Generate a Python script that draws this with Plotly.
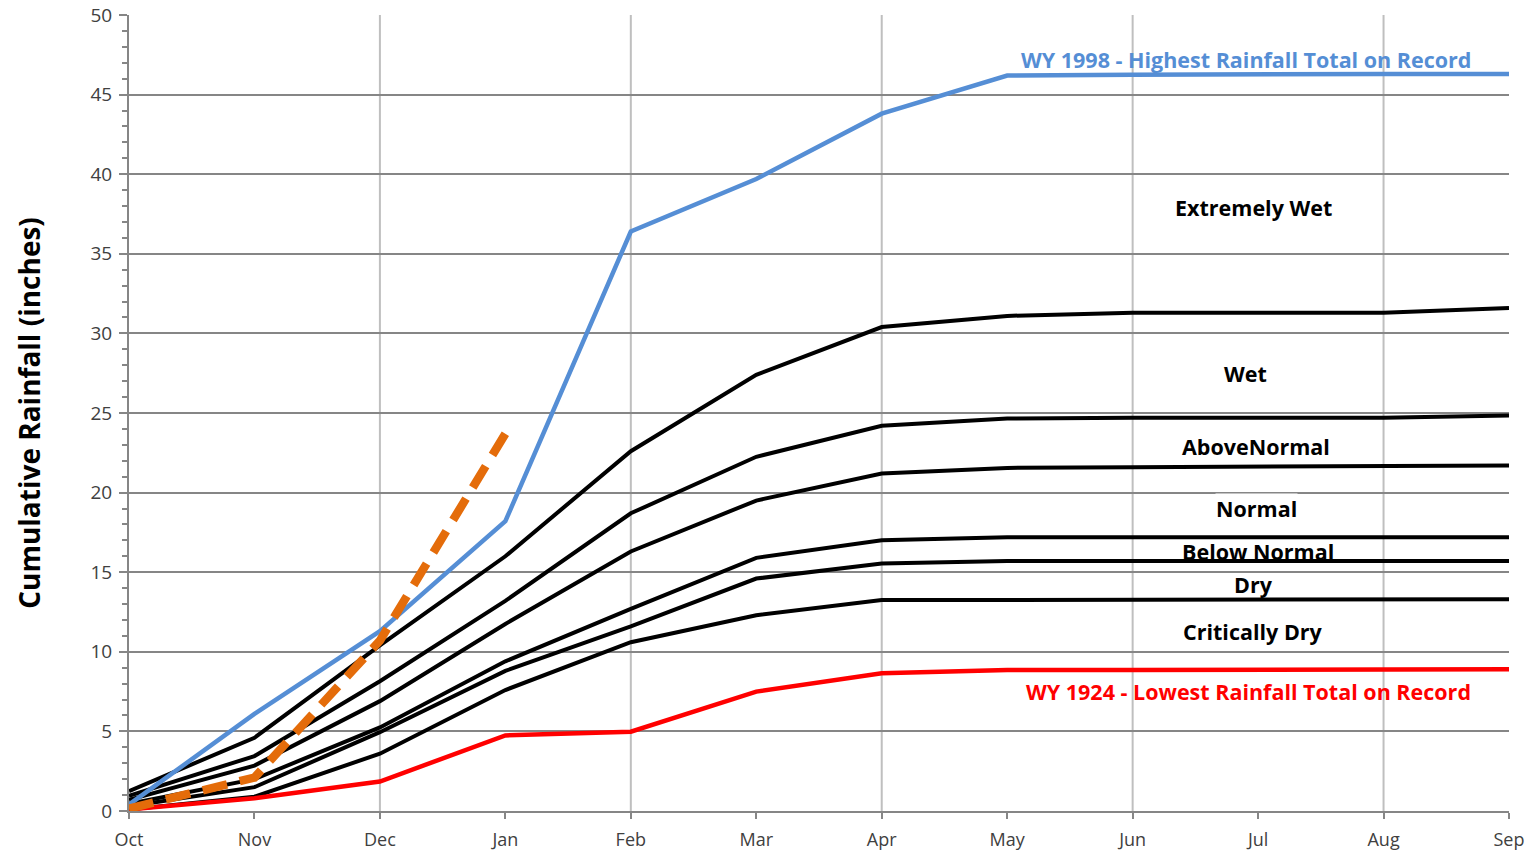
import plotly.graph_objects as go

months = ["Oct", "Nov", "Dec", "Jan", "Feb", "Mar", "Apr", "May", "Jun", "Jul", "Aug", "Sep"]

wy1998 = [0.4, 6.1, 11.3, 18.2, 36.4, 39.7, 43.8, 46.2, 46.25, 46.3, 46.3, 46.3]
wy1924 = [0.1, 0.8, 1.85, 4.75, 4.98, 7.5, 8.65, 8.85, 8.85, 8.85, 8.85, 8.9]
current = [0.15, 2.1, 10.7, 23.7]

bound_wet_extreme = [1.25, 4.6, 10.4, 16.0, 22.6, 27.4, 30.4, 31.1, 31.3, 31.3, 31.3, 31.6]
bound_above_wet = [0.95, 3.45, 8.15, 13.2, 18.7, 22.25, 24.2, 24.65, 24.7, 24.7, 24.7, 24.85]
bound_normal_above = [0.7, 2.85, 6.9, 11.75, 16.3, 19.5, 21.2, 21.55, 21.6, 21.65, 21.65, 21.7]
bound_below_normal = [0.45, 2.0, 5.25, 9.4, 12.7, 15.9, 17.0, 17.2, 17.2, 17.2, 17.2, 17.2]
bound_dry_below = [0.3, 1.5, 4.95, 8.8, 11.6, 14.6, 15.55, 15.7, 15.7, 15.7, 15.7, 15.7]
bound_critical_dry = [0.1, 0.9, 3.6, 7.6, 10.6, 12.3, 13.25, 13.25, 13.25, 13.25, 13.25, 13.3]

grid_months = ["Dec", "Feb", "Apr", "Jun", "Aug"]

# text, x (month index), y (inches), colour, white background
labels = [
    ("WY 1998 - Highest Rainfall Total on Record", 8.9, 47.2, "#558ED5", False),
    ("Extremely Wet", 8.96, 37.9, "black", True),
    ("Wet", 8.9, 27.5, "black", True),
    ("AboveNormal", 8.98, 22.9, "black", True),
    ("Normal", 8.99, 19.0, "black", True),
    ("Below Normal", 9.0, 16.3, "black", False),
    ("Dry", 8.96, 14.25, "black", False),
    ("Critically Dry", 8.96, 11.25, "black", True),
    ("WY 1924 - Lowest Rainfall Total on Record", 8.92, 7.5, "#FF0000", False),
]

xi = list(range(len(months)))

fig = go.Figure()

for series in [bound_wet_extreme, bound_above_wet, bound_normal_above,
               bound_below_normal, bound_dry_below, bound_critical_dry]:
    fig.add_trace(go.Scatter(x=xi, y=series, mode="lines",
                             line=dict(color="black", width=4),
                             showlegend=False, hoverinfo="skip"))

fig.add_trace(go.Scatter(x=xi, y=wy1924, mode="lines",
                         line=dict(color="#FF0000", width=4.5), showlegend=False))
fig.add_trace(go.Scatter(x=xi, y=wy1998, mode="lines",
                         line=dict(color="#558ED5", width=4.5), showlegend=False))
fig.add_trace(go.Scatter(x=xi[:len(current)], y=current, mode="lines",
                         line=dict(color="#E46C0A", width=8.5, dash="25px,13px"),
                         showlegend=False))

for m in grid_months:
    fig.add_shape(type="line", xref="x", yref="paper",
                  x0=months.index(m), x1=months.index(m), y0=0, y1=1,
                  line=dict(color="#BFBFBF", width=2), layer="below")

for text, x, y, color, bg in labels:
    fig.add_annotation(x=x, y=y, xref="x", yref="y", text=text, showarrow=False,
                       font=dict(family="Open Sans", size=21.5, color=color, weight="bold"),
                       bgcolor="white" if bg else "rgba(0,0,0,0)", borderpad=0)

fig.update_layout(
    width=1535, height=857,
    margin=dict(l=129, r=26, t=15, b=46),
    plot_bgcolor="white", paper_bgcolor="white",
    font=dict(family="Open Sans", color="#404040"),
)

fig.update_xaxes(
    range=[0, len(months) - 1], tickmode="array", tickvals=xi, ticktext=months,
    showgrid=False, zeroline=False, showline=True, linecolor="#868686", linewidth=2,
    ticks="outside", ticklen=6, tickcolor="#868686", tickwidth=1.5,
    tickfont=dict(size=18, color="#404040"), automargin=False, ticklabelstandoff=5,
)

fig.update_yaxes(
    range=[0, 50], dtick=5, showgrid=True, gridcolor="#868686", gridwidth=1.8,
    zeroline=False, showline=True, linecolor="#868686", linewidth=2,
    ticks="outside", ticklen=8, tickcolor="#868686", tickwidth=1.5,
    minor=dict(dtick=1, ticks="outside", ticklen=5, tickcolor="#868686", showgrid=False),
    tickfont=dict(size=19, color="#404040"), automargin=False, ticklabelstandoff=3,
    title=dict(text="Cumulative Rainfall (inches)",
               font=dict(family="Open Sans", size=28, color="black", weight="bold"),
               standoff=42),
)

fig.write_html("out.html", config={"displayModeBar": False},
               post_script="document.body.style.margin='0';")
